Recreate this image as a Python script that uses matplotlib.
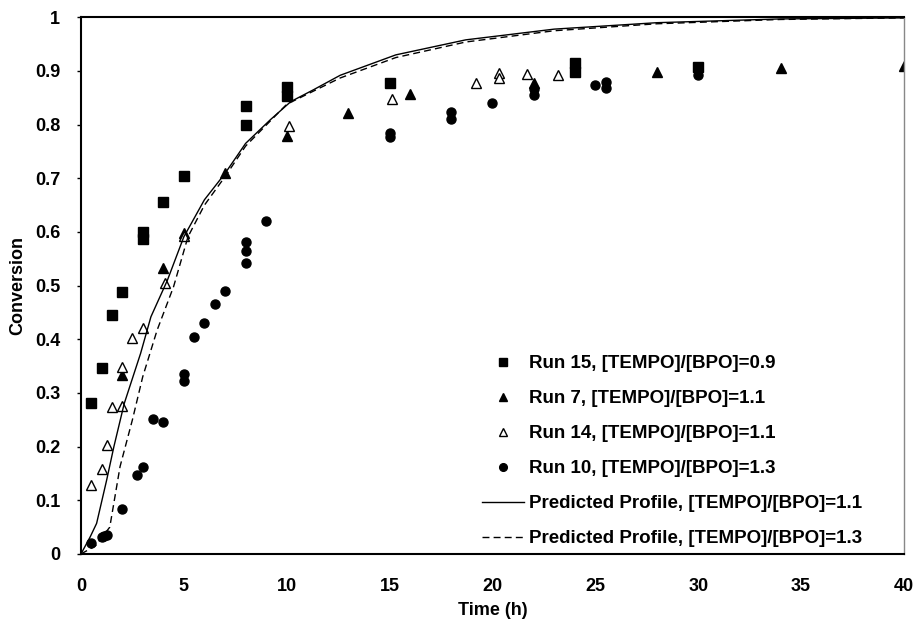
import matplotlib
matplotlib.use("Agg")
import matplotlib.pyplot as plt
import numpy as np

plt.rcParams['font.family'] = ['Liberation Sans', 'DejaVu Sans']
plt.rcParams['font.weight'] = 'bold'

# Run 15, [TEMPO]/[BPO]=0.9
t15 = [0.5, 1, 1.5, 2, 3, 3, 4, 5, 8, 8, 10, 10, 15, 24, 24, 30]
c15 = [0.281, 0.346, 0.445, 0.489, 0.600, 0.587, 0.655, 0.705, 0.834, 0.800,
       0.870, 0.853, 0.877, 0.914, 0.899, 0.908]

# Run 7, [TEMPO]/[BPO]=1.1
t7 = [2, 4, 5, 7, 10, 13, 16, 22, 28, 34, 40]
c7 = [0.333, 0.532, 0.598, 0.709, 0.778, 0.822, 0.857, 0.878, 0.899, 0.906, 0.910]

# Run 14, [TEMPO]/[BPO]=1.1
t14 = [0.5, 1, 1.25, 1.5, 2, 2, 2.5, 3, 4.1, 5, 10.1, 15.1, 19.2, 20.3, 20.3, 21.7, 23.2]
c14 = [0.129, 0.158, 0.203, 0.273, 0.275, 0.349, 0.402, 0.422, 0.505, 0.592,
       0.798, 0.847, 0.877, 0.896, 0.886, 0.895, 0.892]

# Run 10, [TEMPO]/[BPO]=1.3
t10 = [0.5, 1, 1.1, 1.25, 2, 2.7, 3, 3.5, 4, 5, 5, 5.5, 6, 6.5, 7, 8, 8, 8, 9,
       15, 15, 18, 18, 20, 22, 22, 25, 25.5, 25.5, 30]
c10 = [0.021, 0.031, 0.033, 0.035, 0.084, 0.148, 0.162, 0.252, 0.245, 0.335,
       0.323, 0.405, 0.431, 0.466, 0.490, 0.581, 0.565, 0.542, 0.621, 0.785,
       0.777, 0.823, 0.810, 0.841, 0.866, 0.856, 0.873, 0.880, 0.868, 0.892]

# model profiles
t_p11 = [0, 0.45, 0.76, 1.25, 1.6, 2.1, 2.9, 3.4, 4.2, 5, 6, 7, 8, 9.2, 10.2, 11.3,
         12.6, 15.3, 18.7, 23, 28, 34, 40]
c_p11 = [0, 0.032, 0.057, 0.138, 0.20, 0.28, 0.374, 0.442, 0.51, 0.591, 0.66, 0.709,
         0.765, 0.809, 0.843, 0.865, 0.892, 0.930, 0.958, 0.978, 0.990, 0.997, 0.999]

t_p13 = [0, 0.7, 1.4, 1.9, 2.5, 3.0, 3.7, 4.5, 5.2, 6, 7, 8, 10, 12.6, 15.3,
         18.7, 23, 28, 34, 40]
c_p13 = [0, 0.015, 0.05, 0.163, 0.25, 0.33, 0.417, 0.498, 0.591, 0.65, 0.703,
         0.76, 0.838, 0.887, 0.925, 0.954, 0.975, 0.988, 0.996, 0.999]

xticks = [0, 5, 10, 15, 20, 25, 30, 35, 40]
yticks = [0, 0.1, 0.2, 0.3, 0.4, 0.5, 0.6, 0.7, 0.8, 0.9, 1]
ylabels = ['0', '0.1', '0.2', '0.3', '0.4', '0.5', '0.6', '0.7', '0.8', '0.9', '1']

fig = plt.figure(figsize=(9.17, 6.23), dpi=100)
ax = fig.add_axes([0.0883, 0.1108, 0.8975, 0.8614])

ax.plot(t15, c15, 's', color='black', ms=6.5, label='Run 15, [TEMPO]/[BPO]=0.9')
ax.plot(t7, c7, '^', color='black', ms=7, label='Run 7, [TEMPO]/[BPO]=1.1')
ax.plot(t14, c14, '^', mfc='white', mec='black', mew=1.0, ms=7,
        label='Run 14, [TEMPO]/[BPO]=1.1')
ax.plot(t10, c10, 'o', color='black', ms=6.5, label='Run 10, [TEMPO]/[BPO]=1.3')
ax.plot(t_p11, c_p11, '-', color='black', lw=1.0,
        label='Predicted Profile, [TEMPO]/[BPO]=1.1')
ax.plot(t_p13, c_p13, '--', color='black', lw=1.0, dashes=(5, 3),
        label='Predicted Profile, [TEMPO]/[BPO]=1.3')

ax.set_xlim(0, 40)
ax.set_ylim(0, 1)
ax.set_xticks(xticks)
ax.set_yticks(yticks)
ax.set_yticklabels(ylabels)
ax.tick_params(axis='x', length=0, pad=17, labelsize=13)
ax.tick_params(axis='y', length=3, width=1, pad=12, labelsize=13)

for s in ['left', 'bottom', 'top']:
    ax.spines[s].set_color('black')
    ax.spines[s].set_linewidth(1.5)
ax.spines['right'].set_color('#888888')
ax.spines['right'].set_linewidth(1.0)

ax.set_xlabel('Time (h)', fontsize=13, fontweight='bold', labelpad=5)
ax.set_ylabel('Conversion', fontsize=13, fontweight='bold', labelpad=6)

ax.legend(loc='lower left', bbox_to_anchor=(465 / 917, 1 - 564 / 623),
          bbox_transform=fig.transFigure, frameon=False, fontsize=13.5,
          handlelength=2.25, handletextpad=0.27, labelspacing=0.95, markerscale=0.85)

fig.savefig('out.png', dpi=100)
